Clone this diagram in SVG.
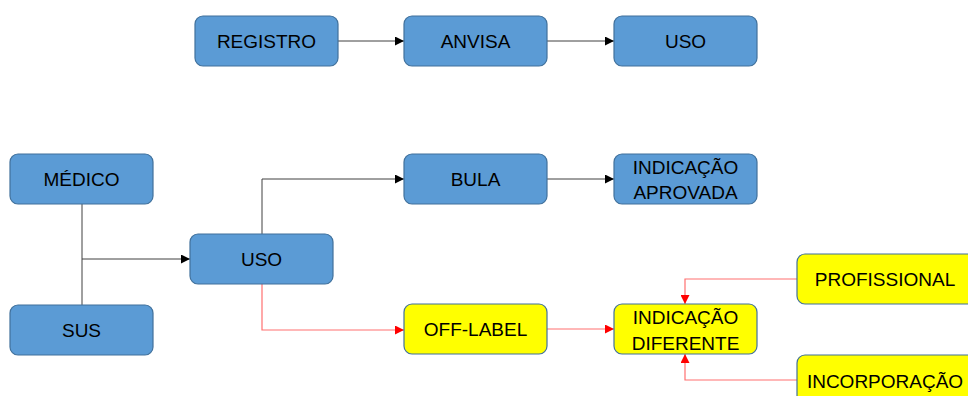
<svg xmlns="http://www.w3.org/2000/svg" width="968" height="396" viewBox="0 0 968 396">
<defs>
<style>
.b{fill:#5B9BD5;stroke:#41719C;stroke-width:1.2}
.y{fill:#FFFF00;stroke:#41719C;stroke-width:1.2}
text{font-family:"Liberation Sans",Arial,sans-serif;font-size:19px;fill:#000;text-anchor:middle}
.k{fill:none;stroke:#404040;stroke-width:1}
.r{fill:none;stroke:#FF7070;stroke-width:1.2}
</style>
<marker id="ak" viewBox="0 0 10 10" refX="10" refY="5" markerWidth="9" markerHeight="9" markerUnits="userSpaceOnUse" orient="auto"><path d="M0,0L10,5L0,10z" fill="#000"/></marker>
<marker id="ar" viewBox="0 0 10 10" refX="10" refY="5" markerWidth="9" markerHeight="9" markerUnits="userSpaceOnUse" orient="auto"><path d="M0,0L10,5L0,10z" fill="#FF0000"/></marker>
</defs>
<g id="connectors">
<path class="k" d="M338,41H404" marker-end="url(#ak)"/>
<path class="k" d="M547,41H614" marker-end="url(#ak)"/>
<path class="k" d="M82,204V305M82,259H190" marker-end="url(#ak)"/>
<path class="k" d="M262,234V179H404" marker-end="url(#ak)"/>
<path class="k" d="M547,179H614" marker-end="url(#ak)"/>
<path class="r" d="M262,284V330H404" marker-end="url(#ar)"/>
<path class="r" d="M547,329H614" marker-end="url(#ar)"/>
<path class="r" d="M797,279H685V304" marker-end="url(#ar)"/>
<path class="r" d="M797,380H685V354" marker-end="url(#ar)"/>
</g>
<g id="registro"><rect class="b" x="195" y="16" width="143" height="50" rx="8"/><text x="266.5" y="48">REGISTRO</text></g>
<g id="anvisa"><rect class="b" x="404" y="16" width="143" height="50" rx="8"/><text x="475.5" y="48">ANVISA</text></g>
<g id="uso-top"><rect class="b" x="614" y="16" width="143" height="50" rx="8"/><text x="685.5" y="48">USO</text></g>
<g id="medico"><rect class="b" x="10" y="154" width="143" height="50" rx="8"/><text x="81.5" y="186">MÉDICO</text></g>
<g id="sus"><rect class="b" x="10" y="305" width="143" height="50" rx="8"/><text x="81.5" y="337">SUS</text></g>
<g id="uso"><rect class="b" x="190" y="234" width="143" height="50" rx="8"/><text x="261.5" y="266">USO</text></g>
<g id="bula"><rect class="b" x="404" y="154" width="143" height="50" rx="8"/><text x="475.5" y="186">BULA</text></g>
<g id="indicacao-aprovada"><rect class="b" x="614" y="154" width="143" height="50" rx="8"/><text x="685.5" y="174">INDICAÇÃO</text><text x="685.5" y="199">APROVADA</text></g>
<g id="off-label"><rect class="y" x="404" y="304" width="143" height="50" rx="8"/><text x="475.5" y="336">OFF-LABEL</text></g>
<g id="indicacao-diferente"><rect class="y" x="614" y="304" width="143" height="50" rx="8"/><text x="685.5" y="324">INDICAÇÃO</text><text x="685.5" y="350">DIFERENTE</text></g>
<g id="profissional"><rect class="y" x="797" y="254" width="180" height="50" rx="8"/><text x="885" y="286">PROFISSIONAL</text></g>
<g id="incorporacao"><rect class="y" x="797" y="355" width="180" height="50" rx="8"/><text x="885" y="388">INCORPORAÇÃO</text></g>
</svg>
